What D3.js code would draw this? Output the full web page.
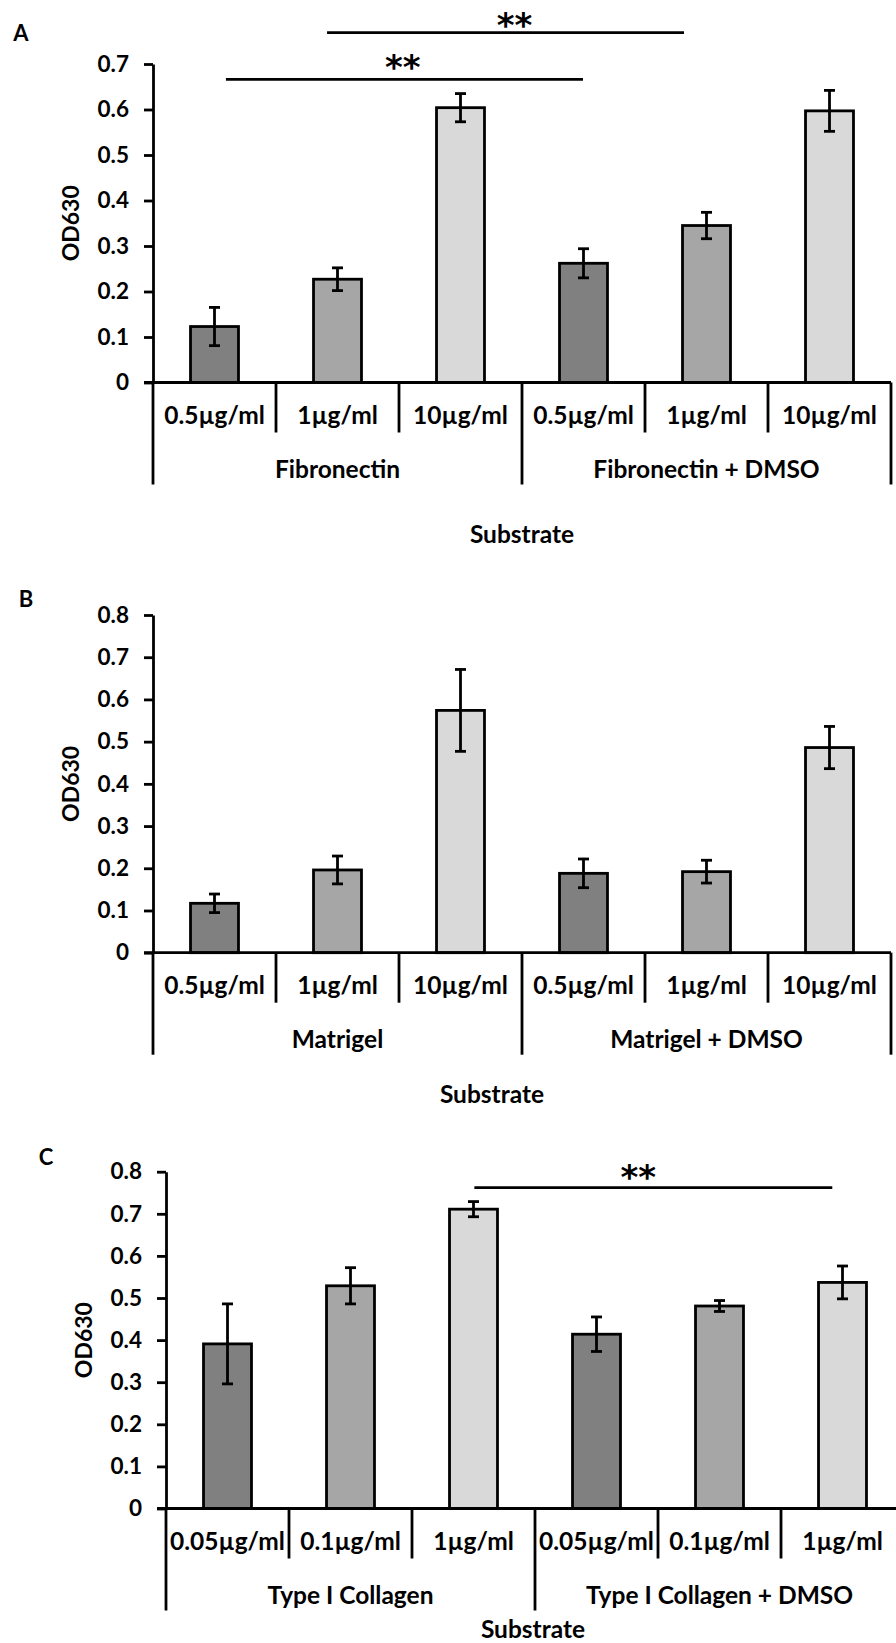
<!DOCTYPE html>
<html>
<head>
<meta charset="utf-8">
<script src="https://cdn.jsdelivr.net/npm/d3@7"></script>
<style>
  html, body { margin: 0; padding: 0; background: #fff; }
  svg { display: block; }
  text { font-family: Lato, "Open Sans", sans-serif; font-weight: 700; fill: #000; }
  text.star { font-family: "DejaVu Sans", sans-serif; font-weight: 700; }
</style>
</head>
<body>
<svg id="fig" width="896" height="1643"></svg>
<script>
// ---- Data -------------------------------------------------------------
const concFibMatrigel = ["0.5µg/ml", "1µg/ml", "10µg/ml"];
const concCollagen    = ["0.05µg/ml", "0.1µg/ml", "1µg/ml"];

const groupsA = ["Fibronectin", "Fibronectin + DMSO"];
const groupsB = ["Matrigel", "Matrigel + DMSO"];
const groupsC = ["Type I Collagen", "Type I Collagen + DMSO"];

// mean OD630 and error (±) per bar, ordered group by group
const meanA = [0.123, 0.227, 0.604, 0.262, 0.345, 0.597];
const errA  = [0.042, 0.025, 0.031, 0.032, 0.029, 0.045];
const meanB = [0.117, 0.196, 0.574, 0.188, 0.192, 0.486];
const errB  = [0.022, 0.033, 0.097, 0.034, 0.027, 0.050];
const meanC = [0.391, 0.529, 0.711, 0.414, 0.481, 0.537];
const errC  = [0.095, 0.043, 0.018, 0.041, 0.013, 0.039];

const yTicksA = [0, 0.1, 0.2, 0.3, 0.4, 0.5, 0.6, 0.7];
const yTicksBC = [0, 0.1, 0.2, 0.3, 0.4, 0.5, 0.6, 0.7, 0.8];

// significance brackets: span in category units, line level and label level in OD630
const sigA = [
  { from: 0.593, to: 3.496, level: 0.666, labelAt: 2.03, labelLevel: 0.706, text: "**" },
  { from: 1.415, to: 4.317, level: 0.769, labelAt: 2.94, labelLevel: 0.799, text: "**" }
];
const sigB = [];
const sigC = [
  { from: 2.507, to: 5.417, level: 0.762, labelAt: 3.84, labelLevel: 0.801, text: "**" }
];

const shades = ["#808080", "#a6a6a6", "#d9d9d9"];

// ---- Layout per panel ---------------------------------------------------
const panels = [
  { tag: "A", tagX: 21, tagY: 33, x0: 153, yTop: 64, yZero: 382.5, yMax: 0.7, ticks: yTicksA,
    conc: concFibMatrigel, groups: groupsA, mean: meanA, err: errA, sig: sigA,
    titleX: 522, titleDy: 152, yLabelX: 71 },
  { tag: "B", tagX: 26, tagY: 599, x0: 153, yTop: 615, yZero: 952.7, yMax: 0.8, ticks: yTicksBC,
    conc: concFibMatrigel, groups: groupsB, mean: meanB, err: errB, sig: sigB,
    titleX: 492, titleDy: 142, yLabelX: 71 },
  { tag: "C", tagX: 46, tagY: 1157, x0: 166, yTop: 1171.7, yZero: 1508.5, yMax: 0.8, ticks: yTicksBC,
    conc: concCollagen, groups: groupsC, mean: meanC, err: errC, sig: sigC,
    titleX: 533, titleDy: 121, yLabelX: 84 }
];

const catWidth = 123;
const nCats = 6;
const lineW = 2.8;
const labelSize = "24.5px";

const svg = d3.select("#fig");

panels.forEach(p => {
  const g = svg.append("g");
  const cats = d3.range(nCats);
  const x = d3.scaleBand().domain(cats).range([p.x0, p.x0 + catWidth * nCats]).paddingInner(0).paddingOuter(0);
  const xu = d3.scaleLinear().domain([0, nCats]).range([p.x0, p.x0 + catWidth * nCats]);
  const y = d3.scaleLinear().domain([0, p.yMax]).range([p.yZero, p.yTop]);

  // panel tag
  g.append("text").attr("x", p.tagX).attr("y", p.tagY).attr("dy", "0.35em")
    .attr("text-anchor", "middle").style("font-size", "22px").text(p.tag);

  // y axis
  const yAxis = d3.axisLeft(y).tickValues(p.ticks).tickSize(9).tickSizeOuter(0).tickPadding(15)
    .tickFormat(d => d === 0 ? "0" : d3.format(".1f")(d));
  const ya = g.append("g").attr("transform", `translate(${p.x0},0)`).call(yAxis);
  ya.select(".domain").attr("stroke", "#000").attr("stroke-width", lineW);
  ya.selectAll(".tick line").attr("stroke", "#000").attr("stroke-width", lineW);
  ya.selectAll(".tick text").style("font-size", "22.5px").style("font-family", "Lato, sans-serif")
    .style("font-weight", 700).attr("fill", "#000");

  // y axis title
  g.append("text")
    .attr("transform", `translate(${p.yLabelX},${(p.yTop + p.yZero) / 2}) rotate(-90)`)
    .attr("text-anchor", "middle").attr("dy", "0.35em")
    .style("font-size", "23px").text("OD630");

  // bars
  const bw = x.bandwidth() * 0.39;
  const rows = cats.map(i => ({ i, v: p.mean[i], e: p.err[i], shade: shades[i % 3] }));
  g.selectAll("rect.bar").data(rows).join("rect").attr("class", "bar")
    .attr("x", d => x(d.i) + (x.bandwidth() - bw) / 2)
    .attr("y", d => y(d.v))
    .attr("width", bw)
    .attr("height", d => y(0) - y(d.v))
    .attr("fill", d => d.shade).attr("stroke", "#000").attr("stroke-width", lineW);

  // error bars
  const cap = 5.5;
  const eb = g.selectAll("g.err").data(rows).join("g").attr("class", "err")
    .attr("stroke", "#000").attr("stroke-width", lineW);
  eb.append("line")
    .attr("x1", d => x(d.i) + x.bandwidth() / 2).attr("x2", d => x(d.i) + x.bandwidth() / 2)
    .attr("y1", d => y(d.v + d.e)).attr("y2", d => y(d.v - d.e));
  eb.append("line")
    .attr("x1", d => x(d.i) + x.bandwidth() / 2 - cap).attr("x2", d => x(d.i) + x.bandwidth() / 2 + cap)
    .attr("y1", d => y(d.v + d.e)).attr("y2", d => y(d.v + d.e));
  eb.append("line")
    .attr("x1", d => x(d.i) + x.bandwidth() / 2 - cap).attr("x2", d => x(d.i) + x.bandwidth() / 2 + cap)
    .attr("y1", d => y(d.v - d.e)).attr("y2", d => y(d.v - d.e));

  // x axis baseline (extends left past the y axis like a zero tick)
  g.append("line").attr("x1", p.x0 - 9).attr("x2", xu(nCats)).attr("y1", y(0)).attr("y2", y(0))
    .attr("stroke", "#000").attr("stroke-width", lineW);

  // category dividers: short between concentrations, long between groups
  const bounds = d3.range(nCats + 1);
  g.selectAll("line.div").data(bounds).join("line").attr("class", "div")
    .attr("x1", d => xu(d)).attr("x2", d => xu(d))
    .attr("y1", y(0)).attr("y2", d => y(0) + (d % 3 === 0 ? 102 : 50))
    .attr("stroke", "#000").attr("stroke-width", lineW);

  // concentration labels
  g.selectAll("text.conc").data(cats).join("text").attr("class", "conc")
    .attr("x", d => x(d) + x.bandwidth() / 2).attr("y", y(0) + 33).attr("dy", "0.35em")
    .attr("text-anchor", "middle").style("font-size", labelSize)
    .text(d => p.conc[d % 3]);

  // group labels
  g.selectAll("text.grp").data(p.groups).join("text").attr("class", "grp")
    .attr("x", (d, k) => xu(k * 3 + 1.5)).attr("y", y(0) + 87).attr("dy", "0.35em")
    .attr("text-anchor", "middle").style("font-size", labelSize).text(d => d);

  // x axis title
  g.append("text").attr("x", p.titleX).attr("y", y(0) + p.titleDy).attr("dy", "0.35em")
    .attr("text-anchor", "middle").style("font-size", labelSize).text("Substrate");

  // significance brackets
  p.sig.forEach(s => {
    g.append("line").attr("x1", xu(s.from)).attr("x2", xu(s.to))
      .attr("y1", y(s.level)).attr("y2", y(s.level))
      .attr("stroke", "#000").attr("stroke-width", lineW);
    g.append("text").attr("class", "star").attr("x", xu(s.labelAt)).attr("y", y(s.labelLevel))
      .attr("dy", "0.52em").attr("text-anchor", "middle").style("font-size", "34px").text(s.text);
  });
});
</script>
</body>
</html>
